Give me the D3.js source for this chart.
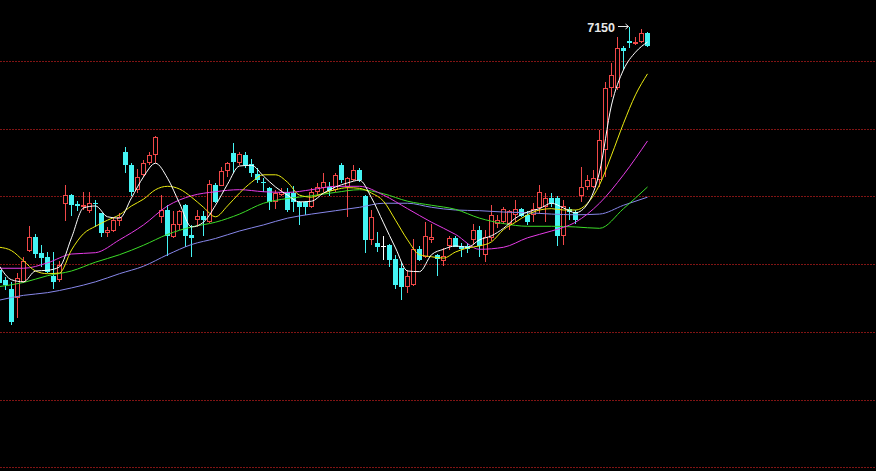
<!DOCTYPE html>
<html><head><meta charset="utf-8">
<script src="https://cdn.jsdelivr.net/npm/d3@7"></script>
<style>html,body{margin:0;padding:0;background:#000;overflow:hidden}</style>
</head><body><svg id="c" width="876" height="471"></svg>
<script>
// candle indices (first one is partly cut off at the left edge)
const candleIdx = d3.range(-1, 108);
const opens = [6792,6777,6764,6750,6774,6820,6840,6817,6811,6782,6776,6889,6902,6889,6885,6878,6891,6875,6846,6849,6864,
6965,6946,6910,6932,6950,6961,6870,6880,6840,6858,6887,6843,6865,6871,6862,6917,6915,6937,6964,6950,6961,6948,
6933,6922,6912,6892,6902,6907,6905,6892,6892,6884,6906,6912,6914,6910,6946,6914,6925,6939,6900,6836,6832,6827,
6828,6807,6795,6766,6769,6823,6811,6836,6813,6805,6827,6839,6827,6827,6836,6850,6814,6839,6860,6862,6860,6873,
6881,6872,6872,6883,6885,6897,6897,6841,6882,6877,6901,6914,6914,6924,6969,7060,7060,7119,7130,7126,7128,7141];
const highs = [6794,6781,6774,6787,6811,6856,6845,6828,6818,6818,6804,6917,6903,6894,6907,6907,6895,6876,6855,6869,6875,
6973,6949,6940,6954,6965,6989,6902,6887,6878,6880,6889,6858,6880,6878,6924,6920,6944,6951,6979,6965,6965,6955,
6942,6927,6914,6910,6912,6912,6915,6893,6893,6912,6920,6934,6922,6935,6949,6929,6946,6942,6902,6880,6848,6841,
6830,6814,6803,6792,6837,6827,6862,6860,6815,6824,6842,6841,6831,6832,6860,6856,6850,6888,6872,6885,6880,6895,
6883,6878,6890,6917,6905,6905,6901,6895,6885,6880,6944,6932,6939,6998,7069,7097,7136,7122,7150,7136,7147,7143];
const lows = [6768,6762,6710,6720,6772,6818,6809,6796,6787,6763,6774,6864,6871,6878,6880,6876,6855,6840,6840,6848,6856,
6934,6901,6905,6929,6946,6949,6861,6812,6838,6850,6825,6811,6855,6841,6861,6891,6915,6929,6934,6946,6942,6929,
6920,6907,6880,6882,6900,6877,6877,6858,6872,6883,6900,6907,6900,6907,6920,6870,6923,6922,6816,6828,6818,6806,
6796,6764,6747,6757,6768,6804,6809,6831,6782,6797,6821,6825,6811,6816,6829,6811,6803,6834,6853,6860,6851,6863,
6869,6858,6862,6876,6862,6885,6827,6828,6865,6860,6892,6910,6912,6914,6929,7047,7057,7087,7119,7124,7126,7120];
const closes = [6772,6769,6714,6779,6805,6840,6815,6809,6789,6774,6799,6902,6887,6886,6887,6890,6889,6846,6850,6865,6869,
6946,6906,6929,6950,6961,6988,6880,6841,6859,6878,6842,6838,6871,6865,6918,6892,6937,6949,6951,6963,6946,6934,
6925,6920,6892,6905,6907,6880,6892,6885,6884,6907,6914,6922,6908,6932,6924,6927,6939,6925,6836,6870,6826,6827,
6806,6770,6766,6782,6823,6806,6842,6840,6808,6812,6838,6826,6822,6822,6850,6827,6840,6873,6865,6881,6878,6881,
6871,6862,6882,6907,6897,6890,6841,6886,6877,6865,6914,6924,6927,6983,7060,7079,7119,7115,7126,7128,7141,7122];

// moving-average lines (values at the listed candle indices)
const maFastIdx = [-1].concat(d3.range(1, 108, 2));
const ma5 = [6797,6777,6774,6790,6791,6796,6839,6883,6886,6870,6868,6898,6929,6949,6927,6890,6855,6862,6887,6918,
6945,6946,6930,6914,6902,6892,6893,6905,6914,6920,6924,6898,6861,6824,6790,6789,6814,6822,6827,6825,
6836,6842,6853,6868,6877,6882,6890,6883,6876,6889,6936,7035,7087,7113,7128];
const ma10 = [6825,6820,6805,6790,6786,6787,6821,6845,6856,6865,6873,6886,6896,6910,6915,6911,6899,6884,6870,6886,
6905,6921,6932,6932,6921,6902,6899,6905,6910,6913,6912,6905,6893,6865,6836,6814,6811,6809,6818,6824,
6827,6833,6851,6862,6873,6880,6882,6880,6880,6890,6917,6961,7008,7050,7081];
const maSlowIdx = d3.range(-1, 108, 4);
const ma20 = [6794,6794,6802,6815,6817,6836,6858,6886,6901,6907,6910,6907,6906,6910,6915,6915,6902,6882,6862,6844,
6822,6825,6839,6849,6862,6890,6932,6982];
const ma40 = [6767,6773,6783,6790,6803,6814,6828,6844,6855,6862,6874,6890,6897,6901,6906,6910,6904,6893,6887,6881,
6868,6860,6856,6856,6855,6853,6882,6914];
const ma60 = [6747,6754,6758,6765,6774,6786,6797,6814,6829,6838,6849,6858,6868,6874,6879,6884,6890,6890,6884,6880,
6879,6877,6876,6874,6873,6874,6887,6899];

const gridPrices = [7100, 7000, 6900, 6800, 6700, 6600, 6500];
const maxLabel = "7150";
const maxIndex = 104;

const svg = d3.select("#c");
svg.append("rect").attr("width", 876).attr("height", 471).attr("fill", "#000");

const x = d3.scaleLinear().domain([-1, 107]).range([-0.5, 647.5]);
const y = d3.scaleLinear().domain([6500, 7100]).range([467.4, 61]);

// grid
svg.append("g").selectAll("line").data(gridPrices).join("line")
  .attr("x1", 0).attr("x2", 876)
  .attr("y1", d => Math.round(y(d)) + 0.5).attr("y2", d => Math.round(y(d)) + 0.5)
  .attr("stroke", "#801414").attr("stroke-width", 1).attr("stroke-dasharray", "2,1");

const candles = candleIdx.map((i, k) => ({i, o: opens[k], h: highs[k], l: lows[k], c: closes[k]}));
const RED = "#f04848", CYAN = "#44f4f4";
const gC = svg.append("g");
candles.forEach(d => {
  const cx = x(d.i);
  const top = Math.round(y(Math.max(d.o, d.c)));
  const bot = Math.round(y(Math.min(d.o, d.c)));
  const hy = Math.round(y(d.h)), ly = Math.round(y(d.l));
  if (d.c > d.o) {
    gC.append("line").attr("x1", cx).attr("x2", cx).attr("y1", hy).attr("y2", top).attr("stroke", RED);
    gC.append("line").attr("x1", cx).attr("x2", cx).attr("y1", bot).attr("y2", ly).attr("stroke", RED);
    gC.append("rect").attr("x", cx - 2).attr("y", top + 0.5).attr("width", 4)
      .attr("height", Math.max(1, bot - top - 1)).attr("fill", "#000").attr("stroke", RED);
  } else if (d.c < d.o) {
    gC.append("line").attr("x1", cx).attr("x2", cx).attr("y1", hy).attr("y2", ly).attr("stroke", CYAN);
    gC.append("rect").attr("x", cx - 2.5).attr("y", top).attr("width", 5)
      .attr("height", Math.max(1, bot - top)).attr("fill", CYAN);
  } else {
    gC.append("line").attr("x1", cx).attr("x2", cx).attr("y1", hy).attr("y2", ly).attr("stroke", "#fff");
    gC.append("line").attr("x1", cx - 2.5).attr("x2", cx + 2.5).attr("y1", top + 0.5).attr("y2", top + 0.5).attr("stroke", "#fff");
  }
});

// moving averages
const series = [
  {idx: maSlowIdx, v: ma60, color: "#8787ea"},
  {idx: maSlowIdx, v: ma40, color: "#3cdc28"},
  {idx: maSlowIdx, v: ma20, color: "#e63ce6"},
  {idx: maFastIdx, v: ma10, color: "#ecec10"},
  {idx: maFastIdx, v: ma5, color: "#ffffff"}
];
const line = d3.line().x(d => x(d[0])).y(d => y(d[1])).curve(d3.curveMonotoneX);
svg.append("g").selectAll("path").data(series).join("path")
  .attr("d", s => line(s.idx.map((i, k) => [i, s.v[k]])))
  .attr("fill", "none").attr("stroke", s => s.color).attr("stroke-width", 1);

// max label
const mx = x(maxIndex), my = Math.round(y(+maxLabel)) - 0.5;
svg.append("text").attr("x", 615).attr("y", 31.5).attr("text-anchor", "end")
  .attr("font-family", "Liberation Sans, Arial, sans-serif").attr("font-size", 12.5).attr("font-weight", "bold")
  .attr("fill", "#e8e8e8").text(maxLabel);
svg.append("line").attr("x1", 618).attr("x2", mx - 1).attr("y1", my).attr("y2", my).attr("stroke", "#e8e8e8");
svg.append("path").attr("d", `M${mx - 4},${my - 2.5}L${mx - 1},${my}L${mx - 4},${my + 2.5}`)
  .attr("fill", "none").attr("stroke", "#e8e8e8");
</script></body></html>
